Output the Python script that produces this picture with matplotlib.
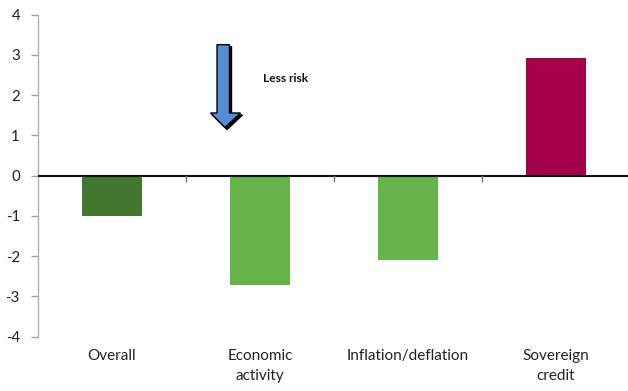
import matplotlib
matplotlib.use("Agg")
import matplotlib.pyplot as plt
from matplotlib.patches import Polygon
from matplotlib.transforms import IdentityTransform

categories = ["Overall", "Economic\nactivity", "Inflation/deflation", "Sovereign\ncredit"]
values = [-1.0, -2.72, -2.1, 2.93]
colors = ["#41772F", "#66B34A", "#66B34A", "#A5004B"]
yticks = [-4, -3, -2, -1, 0, 1, 2, 3, 4]
annotation = "Less risk"

plt.rcParams['font.family'] = ['Lato', 'DejaVu Sans']

W, H = 628, 391
fig = plt.figure(figsize=(W / 100, H / 100), dpi=100)
left_px, right_px, top_px, bot_px = 38, 628, 14.7, 336.7
ax = fig.add_axes([left_px / W, 1 - bot_px / H, (right_px - left_px) / W, (bot_px - top_px) / H])

x = list(range(len(categories)))
ax.bar(x, values, width=0.41, color=colors, zorder=2)
ax.set_xlim(-0.5, -0.5 + (right_px - left_px) / 148)
ax.set_ylim(-4, 4)
ax.set_yticks(yticks)
ax.set_yticklabels([str(v) for v in yticks], fontsize=10.8, color="#222222")
ax.tick_params(axis='y', length=5, color="#A0A0A0", width=1, pad=8)

for s in ["top", "right", "bottom"]:
    ax.spines[s].set_visible(False)
ax.spines["left"].set_color("#B0B0B0")
ax.spines["left"].set_linewidth(1)

ax.axhline(0, color="#111111", lw=1.5, zorder=3)
ax.set_xticks([])
for b in [0.5, 1.5, 2.5]:
    ax.plot([b, b], [0, -0.14], color="#707070", lw=1, zorder=3, clip_on=False)

for xi, lab in zip(x, categories):
    ax.text(xi, -4.3, lab, ha="center", va="top", fontsize=11, color="#222222",
            linespacing=1.55)

def px(xp, yp):
    return (xp, H - yp)

arrow_pts = [px(217, 44.7), px(229.5, 44.7), px(229.5, 113), px(240.5, 113),
             px(225, 127.5), px(210.5, 113), px(217, 113)]
shadow_pts = [(a + 2, b - 2) for a, b in arrow_pts]
tr = IdentityTransform()
fig.patches.append(Polygon(shadow_pts, closed=True, facecolor="#000000", edgecolor="#000000",
                           lw=1, transform=tr, figure=fig))
fig.patches.append(Polygon(arrow_pts, closed=True, facecolor="#558ED5", edgecolor="#000000",
                           lw=1, transform=tr, figure=fig))

fig.text(263 / W, 1 - 78 / H, annotation, fontsize=8.6, fontweight="bold", ha="left",
         va="center", color="#111111")

fig.savefig("out.png", dpi=100)
